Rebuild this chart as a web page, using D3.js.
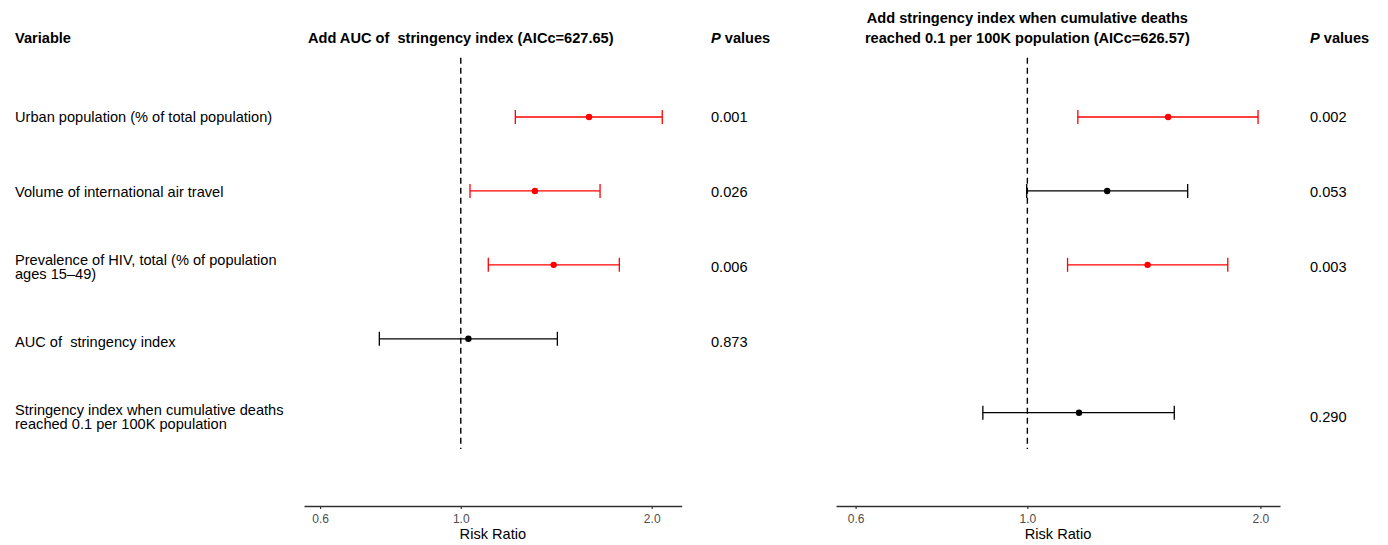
<!DOCTYPE html>
<html>
<head>
<meta charset="utf-8">
<script src="https://cdn.jsdelivr.net/npm/d3@7"></script>
<style>
	body { margin: 0; background: #fff; }
	svg text { font-family: "Liberation Sans", Arial, Helvetica, sans-serif; }
</style>
</head>
<body>
<script>
(function () {
	"use strict";

	var w = 1388;
	var h = 545;
	var fs = 14.6;

	// row labels (multi-line labels split by \n)
	var variables = [
		"Urban population (% of total population)",
		"Volume of international air travel",
		"Prevalence of HIV, total (% of population\nages 15\u201349)",
		"AUC of  stringency index",
		"Stringency index when cumulative deaths\nreached 0.1 per 100K population"
	];

	// model 1: Add AUC of stringency index
	var m1Est = [1.593, 1.309, 1.401, 1.028, null];
	var m1Low = [1.219, 1.034, 1.105, 0.744, null];
	var m1High = [2.078, 1.658, 1.778, 1.420, null];
	var m1P = ["0.001", "0.026", "0.006", "0.873", ""];

	// model 2: Add stringency index when cumulative deaths reached 0.1/100K
	var m2Est = [1.520, 1.268, 1.430, null, 1.166];
	var m2Low = [1.162, 0.998, 1.127, null, 0.876];
	var m2High = [1.986, 1.611, 1.815, null, 1.548];
	var m2P = ["0.002", "0.053", "0.003", "", "0.290"];

	var xTicks = [0.6, 1.0, 2.0];

	var svg = d3.select("body")
		.append("svg")
		.attr("width", w)
		.attr("height", h);

	// text table rows and plot rows are laid out slightly differently
	var yText = d3.scaleLinear().domain([0, 4]).range([117, 417]);
	var yPlot = d3.scaleLinear().domain([0, 4]).range([117, 412.7]);

	// header
	svg.append("text")
		.attr("x", 15)
		.attr("y", 43)
		.attr("font-size", fs)
		.attr("font-weight", "bold")
		.text("Variable");

	// variable labels
	variables.forEach(function (label, i) {
		var lines = label.split("\n");
		var t = svg.append("text")
			.attr("x", 15)
			.attr("font-size", fs)
			.attr("xml:space", "preserve")
			.style("white-space", "pre");
		lines.forEach(function (ln, j) {
			t.append("tspan")
				.attr("x", 15)
				.attr("y", yText(i) + 5 + (j - (lines.length - 1) / 2) * 13.5)
				.text(ln);
		});
	});

	function buildPanel(opts) {

		var xScale = d3.scaleLog()
			.domain(opts.domain)
			.range(opts.range);

		var g = svg.append("g");

		// title
		var title = g.append("text")
			.attr("text-anchor", "middle")
			.attr("font-size", fs)
			.attr("font-weight", "bold")
			.style("white-space", "pre");
		opts.title.forEach(function (ln, j) {
			title.append("tspan")
				.attr("x", xScale(1))
				.attr("y", 43 - (opts.title.length - 1 - j) * 20.5)
				.text(ln);
		});

		// reference line at RR = 1
		g.append("line")
			.attr("x1", xScale(1))
			.attr("x2", xScale(1))
			.attr("y1", yPlot(-0.8))
			.attr("y2", yPlot(4.49))
			.attr("stroke", "#000")
			.attr("stroke-width", 1.4)
			.attr("stroke-dasharray", "6,4");

		var rows = opts.est.map(function (d, i) {
			return { i: i, est: d, low: opts.low[i], high: opts.high[i], p: opts.p[i] };
		}).filter(function (d) { return d.est != null; });

		var col = function (d) { return +d.p < 0.05 ? "#ff0000" : "#000"; };

		var bars = g.selectAll(".bar")
			.data(rows)
			.enter().append("g")
			.attr("class", "bar");

		bars.append("line")
			.attr("x1", (d) => xScale(d.low))
			.attr("x2", (d) => xScale(d.high))
			.attr("y1", (d) => yPlot(d.i))
			.attr("y2", (d) => yPlot(d.i))
			.attr("stroke", col)
			.attr("stroke-width", 1.3);

		["low", "high"].forEach(function (k) {
			bars.append("line")
				.attr("x1", (d) => xScale(d[k]))
				.attr("x2", (d) => xScale(d[k]))
				.attr("y1", (d) => yPlot(d.i) - 7)
				.attr("y2", (d) => yPlot(d.i) + 7)
				.attr("stroke", col)
				.attr("stroke-width", 1.3);
		});

		bars.append("circle")
			.attr("cx", (d) => xScale(d.est))
			.attr("cy", (d) => yPlot(d.i))
			.attr("r", 3.2)
			.attr("fill", col);

		// x axis
		var axis = g.append("g")
			.attr("transform", "translate(0,506)")
			.call(d3.axisBottom(xScale)
				.tickValues(xTicks)
				.tickFormat(d3.format(".1f"))
				.tickSize(3)
				.tickSizeOuter(0));
		axis.select(".domain").attr("stroke", "#333").attr("stroke-width", 1.6);
		axis.selectAll(".tick line").attr("stroke", "#333").attr("stroke-width", 1.2);
		axis.selectAll(".tick text")
			.attr("fill", "#4d4d4d")
			.attr("font-size", 12)
			.attr("font-family", "\"Liberation Sans\", Arial, sans-serif")
			.attr("dy", "0.71em")
			.attr("y", 8);

		g.append("text")
			.attr("x", (opts.range[0] + opts.range[1]) / 2)
			.attr("y", 539)
			.attr("text-anchor", "middle")
			.attr("font-size", fs)
			.text("Risk Ratio");

		// P values column
		var ph = g.append("text")
			.attr("x", opts.pX)
			.attr("y", 43)
			.attr("font-size", fs)
			.attr("font-weight", "bold");
		ph.append("tspan").attr("font-style", "italic").text("P");
		ph.append("tspan").text(" values");

		g.selectAll(".pval")
			.data(opts.p)
			.enter().append("text")
			.attr("class", "pval")
			.attr("x", opts.pX)
			.attr("y", (d, i) => yText(i) + 5)
			.attr("font-size", fs)
			.text((d) => d);
	}

	buildPanel({
		title: ["Add AUC of  stringency index (AICc=627.65)"],
		est: m1Est, low: m1Low, high: m1High, p: m1P,
		domain: [0.566, 2.23],
		range: [304, 681.7],
		pX: 711
	});

	buildPanel({
		title: ["Add stringency index when cumulative deaths",
			"reached 0.1 per 100K population (AICc=626.57)"],
		est: m2Est, low: m2Low, high: m2High, p: m2P,
		domain: [0.566, 2.12],
		range: [836, 1280],
		pX: 1310
	});
})();
</script>
</body>
</html>
